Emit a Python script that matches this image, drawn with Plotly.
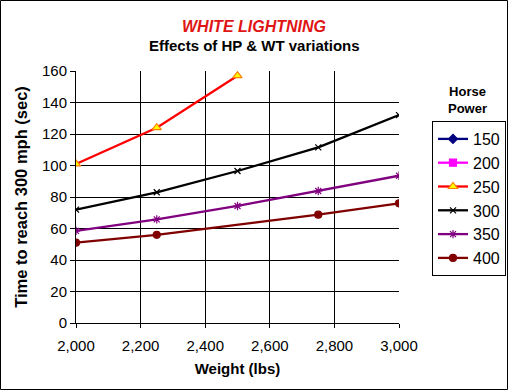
import plotly.graph_objects as go

weights = [2000, 2250, 2500, 2750, 3000]
hp_labels = ["150", "200", "250", "300", "350", "400"]

t150 = [None, None, None, None, None]
t200 = [None, None, None, None, None]
t250 = [101, 124, 157, None, None]
t300 = [72, 83, 96.5, 111.5, 132]
t350 = [58.5, 65.8, 74.3, 83.8, 93.5]
t400 = [51, 56, None, 68.8, 76]

series = [t150, t200, t250, t300, t350, t400]
colors = ["#000080", "#FF00FF", "#FF0000", "#000000", "#800080", "#800000"]
symbols = ["diamond", "square", "triangle-up", "x-thin", "asterisk", "circle"]
mfill = ["#000080", "#FF00FF", "#FFFF00", "#000000", "#800080", "#800000"]
mline = ["#000080", "#FF00FF", "#FF8000", "#000000", "#800080", "#800000"]
msize = [7, 7, 8, 6, 7, 7]

fig = go.Figure()
for lab, ys, c, s, mf, ml, ms in zip(hp_labels, series, colors, symbols, mfill, mline, msize):
    fig.add_trace(go.Scatter(
        x=weights, y=ys, name=lab, mode="lines+markers",
        connectgaps=True,
        line=dict(color=c, width=2.3),
        marker=dict(symbol=s, size=ms, color=mf, line=dict(color=ml, width=1.2)),
    ))

W, H = 509, 391
L, R, T, B = 76, 110, 71, 68
pw, ph = W - L - R, H - T - B

fig.update_layout(
    template="none",
    width=W, height=H,
    margin=dict(l=L, r=R, t=T, b=B, pad=0, autoexpand=False),
    paper_bgcolor="white", plot_bgcolor="white",
    font=dict(family="Liberation Sans, Arial, sans-serif", color="black", size=14),
    showlegend=True,
    legend=dict(
        x=(432 - L) / pw, y=(ph - (121 - T)) / ph, xanchor="left", yanchor="top",
        bordercolor="black", borderwidth=1, bgcolor="white",
        font=dict(size=16), itemwidth=30, tracegroupgap=0,
    ),
    xaxis=dict(
        range=[2000, 3000], dtick=200, tickformat=",d",
        showgrid=True, gridcolor="#000000", gridwidth=1,
        showline=True, linecolor="black", linewidth=1,
        ticks="outside", ticklen=4, tickcolor="black", ticklabelstandoff=5,
        zeroline=False, tickfont=dict(size=15),
        title=dict(text="<b>Weight (lbs)</b>", font=dict(size=15), standoff=10),
    ),
    yaxis=dict(
        range=[0, 160], dtick=20,
        showgrid=True, gridcolor="#000000", gridwidth=1,
        showline=True, linecolor="black", linewidth=1,
        ticks="outside", ticklen=5, tickcolor="black",
        zeroline=False, tickfont=dict(size=15),
        title=dict(text="<b>Time to reach 300 mph (sec)</b>", font=dict(size=16.5), standoff=10),
    ),
    annotations=[
        dict(text="<b><i>WHITE LIGHTNING</i></b>", xref="paper", yref="paper",
             x=(254 - L) / pw, y=1 + (T - 27) / ph, xanchor="center", yanchor="middle",
             showarrow=False, font=dict(size=16, color="#E01515")),
        dict(text="<b>Effects of HP & WT variations</b>", xref="paper", yref="paper",
             x=(254 - L) / pw, y=1 + (T - 46) / ph, xanchor="center", yanchor="middle",
             showarrow=False, font=dict(size=15, color="black")),
        dict(text="<b>Horse<br>Power</b>", xref="paper", yref="paper",
             x=(467 - L) / pw, y=(ph - (100 - T)) / ph, xanchor="center", yanchor="middle",
             showarrow=False, font=dict(size=13, color="black")),
    ],
    shapes=[
        dict(type="rect", xref="paper", yref="paper",
             x0=(-L + 0.5) / pw, x1=1 + (R - 1.5) / pw,
             y0=(-B + 1.5) / ph, y1=1 + (T - 0.5) / ph,
             line=dict(color="black", width=1)),
    ],
)

fig.write_html(
    "out.html",
    config={"displayModeBar": False},
    post_script="document.body.style.margin='0';document.body.style.overflow='hidden';",
)
